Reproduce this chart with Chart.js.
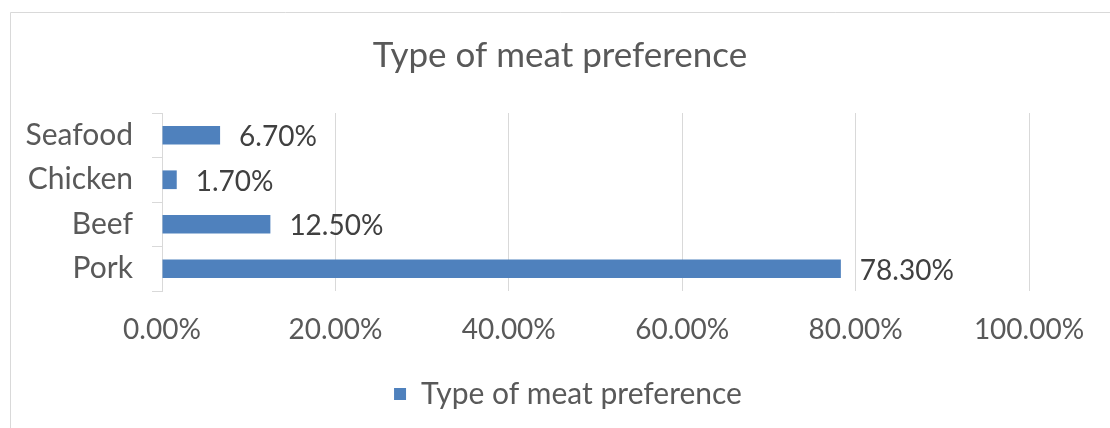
<!DOCTYPE html>
<html>
<head>
<meta charset="utf-8">
<script src="https://cdn.jsdelivr.net/npm/chart.js@4.4.1/dist/chart.umd.min.js"></script>
<style>
  html, body { margin: 0; padding: 0; background: #ffffff; }
  #wrap { position: relative; width: 1110px; height: 428px; overflow: hidden; }
  canvas { display: block; }
</style>
</head>
<body>
<div id="wrap"><canvas id="chart" width="1110" height="428"></canvas></div>
<script>
// Survey results: share of respondents preferring each type of meat (percent)
const categories = ['Seafood', 'Chicken', 'Beef', 'Pork'];
const preferenceValues = [6.7, 1.7, 12.5, 78.3];
const seriesLabel = 'Type of meat preference';
const chartTitle = 'Type of meat preference';
const axisTicks = [0, 20, 40, 60, 80, 100];

const FONT = 'Lato, Carlito, Calibri, "DejaVu Sans", sans-serif';
const TEXT_GREY = '#595959';
const LABEL_DARK = '#404040';
const LINE_GREY = '#d9d9d9';
const BAR_BLUE = '#4f81bd';

const fmtPct = v => Number(v).toFixed(2) + '%';

// Outer frame of the chart (left and top edges fall inside the window)
const framePlugin = {
  id: 'frame',
  beforeDraw(chart) {
    const ctx = chart.ctx;
    ctx.save();
    ctx.fillStyle = '#ffffff';
    ctx.fillRect(0, 0, chart.width, chart.height);
    ctx.strokeStyle = LINE_GREY;
    ctx.lineWidth = 1;
    ctx.beginPath();
    ctx.moveTo(10.5, chart.height);
    ctx.lineTo(10.5, 12.5);
    ctx.lineTo(chart.width, 12.5);
    ctx.stroke();
    ctx.restore();
  }
};

// Legend sits slightly right of the frame centre
const legendShiftPlugin = {
  id: 'legendShift',
  afterLayout(chart) {
    if (chart.legend) {
      chart.legend.left += 8;
      chart.legend.right += 8;
    }
  }
};

// Value labels just past the end of each bar
const valueLabelPlugin = {
  id: 'valueLabels',
  afterDatasetsDraw(chart) {
    const ctx = chart.ctx;
    const meta = chart.getDatasetMeta(0);
    const data = chart.data.datasets[0].data;
    ctx.save();
    ctx.font = '28px ' + FONT;
    ctx.fillStyle = LABEL_DARK;
    ctx.textAlign = 'left';
    ctx.textBaseline = 'middle';
    meta.data.forEach((bar, i) => {
      ctx.fillText(fmtPct(data[i]), bar.x + 19, bar.y + 2);
    });
    ctx.restore();
  }
};

new Chart(document.getElementById('chart'), {
  type: 'bar',
  data: {
    labels: categories,
    datasets: [{
      label: seriesLabel,
      data: preferenceValues,
      backgroundColor: BAR_BLUE,
      borderWidth: 0,
      categoryPercentage: 1.0,
      barPercentage: 0.42
    }]
  },
  options: {
    indexAxis: 'y',
    responsive: false,
    animation: false,
    devicePixelRatio: 1,
    layout: { padding: { left: 10, right: 0, top: 0, bottom: 9 } },
    plugins: {
      title: {
        display: true,
        text: chartTitle,
        color: TEXT_GREY,
        font: { family: FONT, size: 35, weight: 'normal' },
        padding: { top: 35, bottom: 36 }
      },
      legend: {
        display: true,
        position: 'bottom',
        labels: {
          color: TEXT_GREY,
          font: { family: FONT, size: 30 },
          boxWidth: 12,
          boxHeight: 12,
          padding: 10
        }
      },
      tooltip: { enabled: false }
    },
    scales: {
      x: {
        min: 0,
        max: 100,
        afterBuildTicks(scale) { scale.ticks = axisTicks.map(v => ({ value: v })); },
        afterFit(scale) { scale.height = 78; scale.paddingRight = 81; },
        grid: { color: LINE_GREY, lineWidth: 1, drawTicks: false },
        border: { display: false },
        ticks: {
          color: TEXT_GREY,
          font: { family: FONT, size: 28 },
          padding: 22,
          callback: v => fmtPct(v)
        }
      },
      y: {
        afterFit(scale) { scale.width = 152; },
        grid: {
          drawOnChartArea: false,
          drawTicks: true,
          tickLength: 10,
          color: LINE_GREY,
          offset: true
        },
        border: { display: true, color: LINE_GREY, width: 1 },
        ticks: {
          color: TEXT_GREY,
          font: { family: FONT, size: 30 },
          padding: 19
        }
      }
    }
  },
  plugins: [framePlugin, legendShiftPlugin, valueLabelPlugin]
});
</script>
</body>
</html>
